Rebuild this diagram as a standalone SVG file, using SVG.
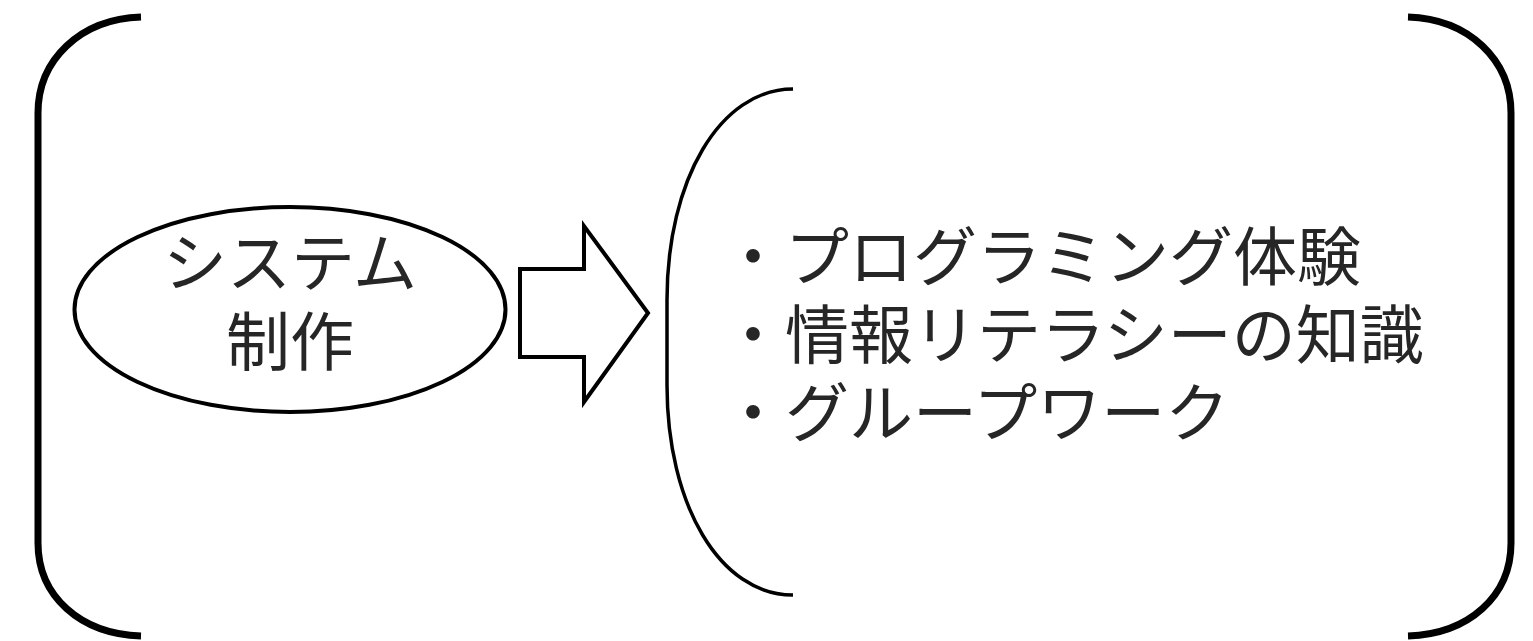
<svg xmlns="http://www.w3.org/2000/svg" width="1533" height="641" viewBox="0 0 1533 641">
<style>
.bracket{fill:none;stroke:#000;stroke-width:7;}
.thin{fill:#fff;stroke:#000;stroke-width:4;}
.brace{fill:none;stroke:#000;stroke-width:3.5;}
.t{font-family:"Noto Sans CJK JP","Noto Sans CJK SC",sans-serif;font-size:64px;fill:#262626;}
</style>
<rect width="1533" height="641" fill="#fff"/>
<g id="outer-left-bracket">
<path class="bracket" d="M141,17 C80,19 38,60 38,113 L38,543 C38,596 80,634 141,636"/>
</g>
<g id="outer-right-bracket">
<path class="bracket" d="M1408,17 C1469,19 1511,60 1511,113 L1511,543 C1511,596 1469,634 1408,636"/>
</g>
<g id="node-system">
<ellipse class="thin" cx="290" cy="309.5" rx="215.5" ry="102.5" stroke-width="3.5"/>
<text class="t" x="290" y="286" text-anchor="middle">システム</text>
<text class="t" x="290" y="365" text-anchor="middle">制作</text>
</g>
<g id="connectors">
<path class="thin" d="M520,269 L584,269 L584,226 L648,313 L584,402 L584,357 L520,357 Z"/>
</g>
<g id="inner-brace">
<path class="brace" d="M793,89 C720,89 667,180 667,300 L667,385 C667,505 720,595 793,595"/>
</g>
<g id="node-outcomes">
<text class="t" x="721" y="280">・プログラミング体験</text>
<text class="t" x="721" y="358">・情報リテラシーの知識</text>
<text class="t" x="721" y="436">・グループワーク</text>
</g>
</svg>
